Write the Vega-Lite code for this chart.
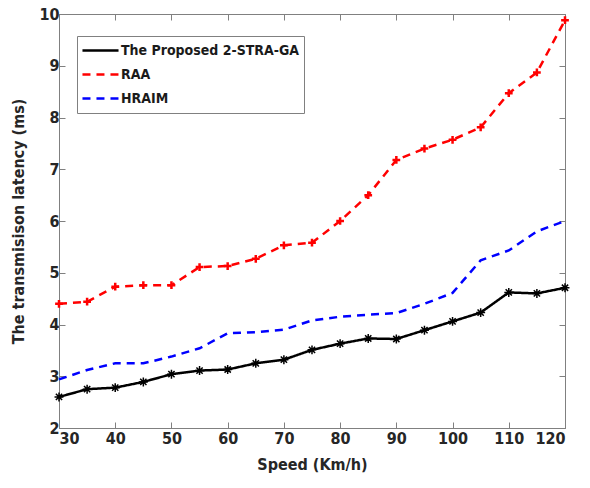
{
  "$schema": "https://vega.github.io/schema/vega-lite/v6.json",
  "width": 506,
  "height": 414,
  "autosize": {"type": "none"},
  "padding": {"left": 59, "top": 14, "right": 25, "bottom": 60},
  "background": "white",
  "config": {
    "view": {"stroke": "#808080", "strokeWidth": 1},
    "font": "DejaVu Sans Condensed, Liberation Sans, sans-serif",
    "axis": {
      "grid": false,
      "domainColor": "#808080",
      "tickColor": "#808080",
      "tickSize": -6,
      "labelFont": "DejaVu Sans Condensed, Liberation Sans, sans-serif",
      "labelFontWeight": "bold",
      "labelFontSize": 16,
      "labelColor": "#262626",
      "titleFont": "DejaVu Sans Condensed, Liberation Sans, sans-serif",
      "titleFontWeight": "bold",
      "titleFontSize": 16,
      "titleColor": "#262626"
    }
  },
  "data": {
    "values": [
      {"speed": 30, "method": "The Proposed 2-STRA-GA", "latency": 2.60},
      {"speed": 35, "method": "The Proposed 2-STRA-GA", "latency": 2.75},
      {"speed": 40, "method": "The Proposed 2-STRA-GA", "latency": 2.78},
      {"speed": 45, "method": "The Proposed 2-STRA-GA", "latency": 2.89},
      {"speed": 50, "method": "The Proposed 2-STRA-GA", "latency": 3.04},
      {"speed": 55, "method": "The Proposed 2-STRA-GA", "latency": 3.11},
      {"speed": 60, "method": "The Proposed 2-STRA-GA", "latency": 3.13},
      {"speed": 65, "method": "The Proposed 2-STRA-GA", "latency": 3.25},
      {"speed": 70, "method": "The Proposed 2-STRA-GA", "latency": 3.32},
      {"speed": 75, "method": "The Proposed 2-STRA-GA", "latency": 3.51},
      {"speed": 80, "method": "The Proposed 2-STRA-GA", "latency": 3.63},
      {"speed": 85, "method": "The Proposed 2-STRA-GA", "latency": 3.73},
      {"speed": 90, "method": "The Proposed 2-STRA-GA", "latency": 3.72},
      {"speed": 95, "method": "The Proposed 2-STRA-GA", "latency": 3.89},
      {"speed": 100, "method": "The Proposed 2-STRA-GA", "latency": 4.06},
      {"speed": 105, "method": "The Proposed 2-STRA-GA", "latency": 4.23},
      {"speed": 110, "method": "The Proposed 2-STRA-GA", "latency": 4.62},
      {"speed": 115, "method": "The Proposed 2-STRA-GA", "latency": 4.60},
      {"speed": 120, "method": "The Proposed 2-STRA-GA", "latency": 4.71},
      {"speed": 30, "method": "RAA", "latency": 4.40},
      {"speed": 35, "method": "RAA", "latency": 4.44},
      {"speed": 40, "method": "RAA", "latency": 4.73},
      {"speed": 45, "method": "RAA", "latency": 4.76},
      {"speed": 50, "method": "RAA", "latency": 4.76},
      {"speed": 55, "method": "RAA", "latency": 5.11},
      {"speed": 60, "method": "RAA", "latency": 5.13},
      {"speed": 65, "method": "RAA", "latency": 5.27},
      {"speed": 70, "method": "RAA", "latency": 5.53},
      {"speed": 75, "method": "RAA", "latency": 5.58},
      {"speed": 80, "method": "RAA", "latency": 6.00},
      {"speed": 85, "method": "RAA", "latency": 6.50},
      {"speed": 90, "method": "RAA", "latency": 7.18},
      {"speed": 95, "method": "RAA", "latency": 7.40},
      {"speed": 100, "method": "RAA", "latency": 7.57},
      {"speed": 105, "method": "RAA", "latency": 7.81},
      {"speed": 110, "method": "RAA", "latency": 8.47},
      {"speed": 115, "method": "RAA", "latency": 8.87},
      {"speed": 120, "method": "RAA", "latency": 9.88},
      {"speed": 30, "method": "HRAIM", "latency": 2.94},
      {"speed": 35, "method": "HRAIM", "latency": 3.12},
      {"speed": 40, "method": "HRAIM", "latency": 3.25},
      {"speed": 45, "method": "HRAIM", "latency": 3.25},
      {"speed": 50, "method": "HRAIM", "latency": 3.38},
      {"speed": 55, "method": "HRAIM", "latency": 3.54},
      {"speed": 60, "method": "HRAIM", "latency": 3.83},
      {"speed": 65, "method": "HRAIM", "latency": 3.85},
      {"speed": 70, "method": "HRAIM", "latency": 3.90},
      {"speed": 75, "method": "HRAIM", "latency": 4.08},
      {"speed": 80, "method": "HRAIM", "latency": 4.15},
      {"speed": 85, "method": "HRAIM", "latency": 4.19},
      {"speed": 90, "method": "HRAIM", "latency": 4.22},
      {"speed": 95, "method": "HRAIM", "latency": 4.40},
      {"speed": 100, "method": "HRAIM", "latency": 4.61},
      {"speed": 105, "method": "HRAIM", "latency": 5.24},
      {"speed": 110, "method": "HRAIM", "latency": 5.43},
      {"speed": 115, "method": "HRAIM", "latency": 5.80},
      {"speed": 120, "method": "HRAIM", "latency": 6.00}
    ]
  },
  "resolve": {"axis": {"x": "independent", "y": "independent"}},
  "layer": [
    {
      "mark": {"type": "line", "strokeWidth": 2.5, "clip": true},
      "encoding": {
        "x": {
          "field": "speed", "type": "quantitative",
          "scale": {"domain": [30, 120], "nice": false},
          "axis": {"values": [30, 40, 50, 60, 70, 80, 90, 100, 110, 120], "title": "Speed (Km/h)", "labelPadding": 8, "titlePadding": 10}
        },
        "y": {
          "field": "latency", "type": "quantitative",
          "scale": {"domain": [2, 10], "nice": false, "zero": false},
          "axis": {"values": [2, 3, 4, 5, 6, 7, 8, 9, 10], "title": "The transmisison latency (ms)", "labelPadding": 6, "titlePadding": 12}
        },
        "color": {
          "field": "method", "type": "nominal",
          "scale": {
            "domain": ["The Proposed 2-STRA-GA", "RAA", "HRAIM"],
            "range": ["#000000", "#ff0000", "#0000ff"]
          },
          "legend": {
            "title": null,
            "orient": "none",
            "legendX": 18,
            "legendY": 22,
            "strokeColor": "#808080",
            "fillColor": "white",
            "padding": 4,
            "symbolType": "stroke",
            "symbolSize": 1300,
            "symbolStrokeWidth": 2.5,
            "clipHeight": 21,
            "labelFont": "DejaVu Sans Condensed, Liberation Sans, sans-serif",
            "labelFontWeight": "bold",
            "labelFontSize": 14,
            "labelColor": "#1a1a1a",
            "labelOffset": 1,
            "labelLimit": 300,
            "rowPadding": 3,
            "offset": 0
          }
        },
        "strokeDash": {
          "field": "method", "type": "nominal",
          "scale": {
            "domain": ["The Proposed 2-STRA-GA", "RAA", "HRAIM"],
            "range": [[1, 0], [8, 6], [8, 6]]
          },
          "legend": null
        }
      }
    },
    {
      "transform": [{"filter": "datum.method === 'The Proposed 2-STRA-GA'"}],
      "mark": {
        "type": "point",
        "shape": "M-1,0L1,0M0,-1L0,1M-0.7,-0.7L0.7,0.7M-0.7,0.7L0.7,-0.7",
        "filled": false,
        "stroke": "#000000",
        "strokeWidth": 1.5,
        "size": 80,
        "opacity": 1
      },
      "encoding": {
        "x": {"field": "speed", "type": "quantitative", "scale": {"domain": [30, 120], "nice": false}, "axis": {"orient": "top", "labels": false, "title": null, "values": [30, 40, 50, 60, 70, 80, 90, 100, 110, 120]}},
        "y": {"field": "latency", "type": "quantitative", "scale": {"domain": [2, 10], "nice": false, "zero": false}, "axis": {"orient": "right", "labels": false, "title": null, "values": [2, 3, 4, 5, 6, 7, 8, 9, 10]}}
      }
    },
    {
      "transform": [{"filter": "datum.method === 'RAA'"}],
      "mark": {
        "type": "point",
        "shape": "M-1,0L1,0M0,-1L0,1",
        "filled": false,
        "stroke": "#ff0000",
        "strokeWidth": 2.5,
        "size": 60,
        "opacity": 1
      },
      "encoding": {
        "x": {"field": "speed", "type": "quantitative", "axis": null},
        "y": {"field": "latency", "type": "quantitative", "axis": null}
      }
    }
  ]
}
